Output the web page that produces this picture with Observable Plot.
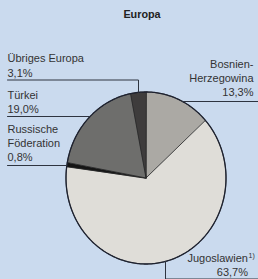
<!DOCTYPE html>
<html><head><meta charset="utf-8">
<script src="https://cdn.jsdelivr.net/npm/d3@7"></script>
<script src="https://cdn.jsdelivr.net/npm/@observablehq/plot@0.6"></script>
<style>
html,body{margin:0;padding:0;background:#cadaee;}
#chart svg{display:block}
</style></head><body><div id="chart"></div>
<script>
// ---- data ----
const title = "Europa";
const categories = ["Bosnien-Herzegowina", "Jugoslawien", "Russische Föderation", "Türkei", "Übriges Europa"];
const shares = [13.3, 63.7, 0.8, 19.0, 3.1];
const labelLines = [["Bosnien-", "Herzegowina"], ["Jugoslawien"], ["Russische", "Föderation"], ["Türkei"], ["Übriges Europa"]];
const footnotes = ["", "1)", "", "", ""];

// ---- styles / layout ----
const fills = ["#aba9a4", "#dfddd8", "#151515", "#6e6e6c", "#3e3c3c"];
const W = 258, H = 279;
const cx = 145.5, cy = 177.5, rx = 80, ry = 86;
const FS = 11, LH = 14.3;
const ink = "#333";
const lineInk = "#2e3440";
// per label: text anchor, x, last baseline y, leader kind
const layout = [
  {anchor: "end", x: 253, yLast: 95.7, leader: {type: "right", y: 101, x2: 257.5}},
  {anchor: "end", x: 247.5, yLast: 275.8, leader: {type: "bottom", x: 165, y: 278.5, x2: 258}},
  {anchor: "start", x: 7, yLast: 160.7, leader: {type: "left", y: 165, x1: 7}},
  {anchor: "start", x: 7, yLast: 112.7, leader: {type: "left", y: 116, x1: 7}},
  {anchor: "start", x: 7, yLast: 76, leader: {type: "top", y: 79.5, x1: 7, x: 138}}
];

const fmt = v => v.toFixed(1).replace(".", ",") + "%";
const px = a => cx + rx * Math.sin(a);
const py = a => cy - ry * Math.cos(a);
const edgeX = (y, side) => cx + side * rx * Math.sqrt(Math.max(0, 1 - ((y - cy) / ry) ** 2));
const edgeY = (x, side) => cy + side * ry * Math.sqrt(Math.max(0, 1 - ((x - cx) / rx) ** 2));

const arcs = d3.pie().sort(null).value(d => d)(shares);

const slicePolys = arcs.map((a, i) => {
  const pts = [{x: cx, y: cy}];
  const n = Math.max(2, Math.ceil((a.endAngle - a.startAngle) / 0.01));
  for (let k = 0; k <= n; k++) {
    const t = a.startAngle + (a.endAngle - a.startAngle) * k / n;
    pts.push({x: px(t), y: py(t)});
  }
  return pts;
});

const outline = d3.range(0, 361).map(d => ({x: px(d * Math.PI / 180), y: py(d * Math.PI / 180)}));

const leaders = layout.map(l => {
  const L = l.leader;
  if (L.type === "right") return [{x: edgeX(L.y, 1), y: L.y}, {x: L.x2, y: L.y}];
  if (L.type === "left") return [{x: L.x1, y: L.y}, {x: edgeX(L.y, -1), y: L.y}];
  if (L.type === "top") return [{x: L.x1, y: L.y}, {x: L.x, y: L.y}, {x: L.x, y: edgeY(L.x, -1)}];
  if (L.type === "bottom") return [{x: L.x, y: edgeY(L.x, 1)}, {x: L.x, y: L.y}, {x: L.x2, y: L.y}];
});

const texts = [];
layout.forEach((l, i) => {
  const lines = [...labelLines[i], fmt(shares[i])];
  lines.forEach((s, j) => {
    texts.push({text: s, x: l.x, y: l.yLast - (lines.length - 1 - j) * LH, anchor: l.anchor});
  });
});
const notes = [];
layout.forEach((l, i) => {
  if (footnotes[i]) notes.push({text: footnotes[i], x: l.x + 0.5, y: l.yLast - LH - 4.5});
});

const marks = [
  ...slicePolys.map((pts, i) => Plot.line(pts, {x: "x", y: "y", curve: "linear-closed", fill: fills[i], stroke: "#262626", strokeWidth: 0.8, strokeLinejoin: "round"})),
  Plot.line(outline, {x: "x", y: "y", curve: "linear-closed", stroke: "#1e2230", strokeWidth: 1.3}),
  ...leaders.map(pts => Plot.line(pts, {x: "x", y: "y", stroke: lineInk, strokeWidth: 1})),
  Plot.text(texts.filter(t => t.anchor === "start"), {x: "x", y: "y", text: "text", textAnchor: "start", lineAnchor: "bottom", fontSize: FS, fill: ink}),
  Plot.text(texts.filter(t => t.anchor === "end"), {x: "x", y: "y", text: "text", textAnchor: "end", lineAnchor: "bottom", fontSize: FS, fill: ink}),
  Plot.text(notes, {x: "x", y: "y", text: "text", textAnchor: "start", lineAnchor: "bottom", fontSize: 7, fill: ink}),
  Plot.text([title], {x: () => 141.5, y: () => 17, text: d => d, textAnchor: "middle", lineAnchor: "bottom", fontSize: 10.8, fontWeight: "bold", fill: "#222"})
];

const chart = Plot.plot({
  width: W, height: H,
  margin: 0,
  x: {domain: [0, W], range: [0, W], axis: null},
  y: {domain: [0, H], range: [0, H], axis: null},
  style: {background: "#cadaee", fontFamily: "'Liberation Sans', Arial, sans-serif", overflow: "visible"},
  marks
});
document.getElementById("chart").append(chart);
</script>
</body></html>
